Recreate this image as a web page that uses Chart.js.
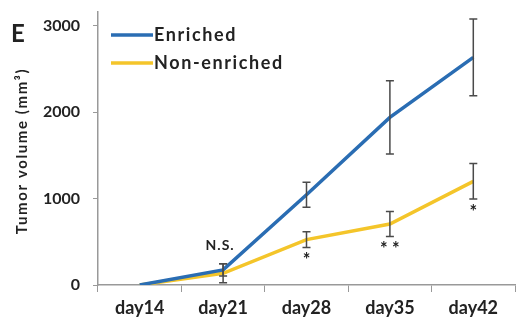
<!DOCTYPE html>
<html><head><meta charset="utf-8">
<script src="https://cdn.jsdelivr.net/npm/chart.js@4.4.1/dist/chart.umd.min.js"></script>
<style>html,body{margin:0;padding:0;background:#fff}#w{width:517px;height:332px}</style>
</head><body><div id="w"><canvas id="c" width="517" height="332"></canvas></div>
<script>
const categories = ["day14","day21","day28","day35","day42"];
const enriched = [0, 175, 1045, 1940, 2635];
const enrichedSD = [0, 70, 145, 425, 445];
const nonEnriched = [0, 135, 525, 705, 1200];
const nonEnrichedSD = [0, 110, 90, 145, 205];
const yTicks = [0, 1000, 2000, 3000];
const marks = ["", "N.S.", "*", "**", "*"];
const FONT = "Lato, 'Open Sans', sans-serif";
const TXT = "#222";
const BLUE = '#2a6db3';
const YELLOW = '#f4c52a';

const errPlugin = {
  id: 'errbars',
  afterDatasetsDraw(chart) {
    const ctx = chart.ctx, x = chart.scales.x, y = chart.scales.y;
    const sets = [[enriched, enrichedSD], [nonEnriched, nonEnrichedSD]];
    ctx.save();
    ctx.strokeStyle = '#4a4a4a';
    ctx.lineWidth = 1.5;
    sets.forEach(([v, sd]) => {
      v.forEach((m, i) => {
        if (!sd[i]) return;
        const px = x.getPixelForValue(i);
        const t = y.getPixelForValue(m + sd[i]), b = y.getPixelForValue(m - sd[i]);
        ctx.beginPath();
        ctx.moveTo(px, t); ctx.lineTo(px, b);
        ctx.moveTo(px - 4, t); ctx.lineTo(px + 4, t);
        ctx.moveTo(px - 4, b); ctx.lineTo(px + 4, b);
        ctx.stroke();
      });
    });
    // significance marks
    ctx.fillStyle = TXT;
    ctx.textAlign = 'center';
    ctx.textBaseline = 'middle';
    marks.forEach((m, i) => {
      if (!m) return;
      const px = x.getPixelForValue(i);
      let py;
      if (m === "N.S.") {
        ctx.font = "bold 14px " + FONT;
        ctx.letterSpacing = '1px';
        py = y.getPixelForValue(enriched[i] + enrichedSD[i]) - 18;
        ctx.fillText(m, px - 3, py);
        ctx.letterSpacing = '0px';
      } else {
        ctx.font = "bold 18px " + FONT;
        py = y.getPixelForValue(nonEnriched[i] - nonEnrichedSD[i]) + 13;
        ctx.fillText(m.split('').join(' '), px, py);
      }
    });
    // panel letter
    ctx.font = "bold 24px " + FONT;
    ctx.textAlign = 'left';
    ctx.fillText("E", 11, 34);
    // legend
    const items = [["Enriched", BLUE, 35], ["Non-enriched", YELLOW, 63]];
    items.forEach(([lab, col, yy]) => {
      ctx.strokeStyle = col; ctx.lineWidth = 3.5;
      ctx.beginPath(); ctx.moveTo(111, yy); ctx.lineTo(153, yy); ctx.stroke();
      ctx.fillStyle = TXT; ctx.font = "bold 18px " + FONT;
      ctx.letterSpacing = '1.6px';
      ctx.fillText(lab, 154, yy);
    });
    // y title
    ctx.translate(22, 151);
    ctx.rotate(-Math.PI / 2);
    ctx.textAlign = 'center';
    ctx.font = "bold 15px " + FONT;
    ctx.letterSpacing = '1.6px';
    ctx.fillText("Tumor volume (mm³)", 0, 0);
    ctx.restore();
  }
};

new Chart(document.getElementById('c'), {
  type: 'line',
  data: {
    labels: categories,
    datasets: [
      {label: 'Enriched', data: enriched, borderColor: BLUE, borderWidth: 3.5, pointRadius: 0, tension: 0, fill: false},
      {label: 'Non-enriched', data: nonEnriched, borderColor: YELLOW, borderWidth: 3.5, pointRadius: 0, tension: 0, fill: false}
    ]
  },
  options: {
    responsive: false, animation: false,
    layout: {padding: {left: 0, right: 2, top: 12, bottom: 0}},
    plugins: {legend: {display: false}, tooltip: {enabled: false}},
    scales: {
      x: {
        offset: true,
        grid: {offset: true, drawOnChartArea: false, drawTicks: true, tickLength: 7, color: '#999'},
        border: {color: '#999', width: 1.5},
        ticks: {color: TXT, font: {family: FONT, size: 18, weight: 'bold'}, padding: 5},
        afterFit(s) { s.height = 47; }
      },
      y: {
        min: 0, max: 3160,
        afterBuildTicks(s) { s.ticks = yTicks.map(v => ({value: v})); },
        grid: {drawOnChartArea: false, drawTicks: true, tickLength: 5, color: '#999'},
        border: {color: '#999', width: 1.5},
        ticks: {color: TXT, font: {family: FONT, size: 16, weight: 'bold'}, padding: 13, callback: v => String(v)},
        title: {display: false},
        afterFit(s) { s.width = 98; s.paddingTop = 0; s.paddingBottom = 0; }
      }
    }
  },
  plugins: [errPlugin]
});
</script></body></html>
